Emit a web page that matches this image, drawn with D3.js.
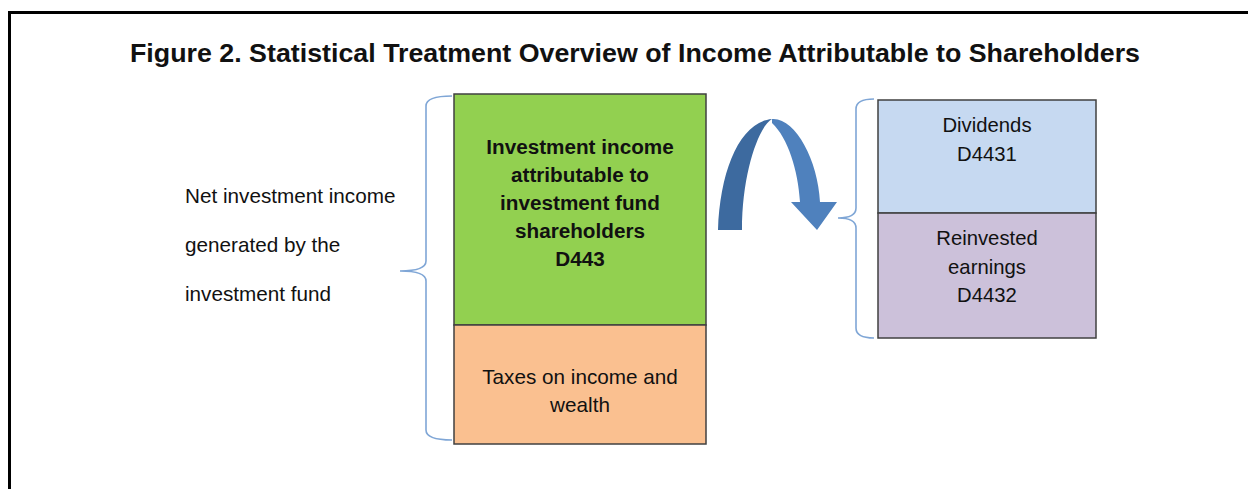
<!DOCTYPE html>
<html>
<head>
<meta charset="utf-8">
<script src="https://cdn.jsdelivr.net/npm/d3@7"></script>
<style>
  body { margin: 0; background: #fff; }
  text { font-family: "Liberation Sans", Arial, sans-serif; fill: #111; }
</style>
</head>
<body>
<div id="chart"></div>
<script>
////////////////////////////////////////////////////
// diagram content
////////////////////////////////////////////////////
var title = "Figure 2. Statistical Treatment Overview of Income Attributable to Shareholders";
var leftLines = ["Net investment income", "generated by the", "investment fund"];

// left stack: share of the column taken by each block
var leftNames  = ["Investment income\nattributable to\ninvestment fund\nshareholders\nD443", "Taxes on income and\nwealth"];
var leftShares = [0.66, 0.34];
var leftFills  = ["#92d050", "#fac090"];
var leftBold   = [true, false];

// right stack
var rightNames  = ["Dividends\nD4431", "Reinvested\nearnings\nD4432"];
var rightShares = [0.475, 0.525];
var rightFills  = ["#c6d9f1", "#ccc1da"];
////////////////////////////////////////////////////

var W = 1248, H = 489;
var svg = d3.select("#chart").append("svg")
	.attr("width", W)
	.attr("height", H);

// frame (top + left only)
svg.append("rect").attr("x", 8).attr("y", 11).attr("width", W - 8).attr("height", 3).attr("fill", "#000");
svg.append("rect").attr("x", 8).attr("y", 11).attr("width", 3).attr("height", H - 11).attr("fill", "#000");

svg.append("text")
	.attr("x", 130)
	.attr("y", 62)
	.attr("font-size", 26.5)
	.attr("font-weight", "bold")
	.attr("textLength", 1010)
	.attr("lengthAdjust", "spacingAndGlyphs")
	.text(title);

// left description
svg.selectAll("text.lefttxt")
	.data(leftLines)
	.enter().append("text")
		.attr("class", "lefttxt")
		.attr("x", 185)
		.attr("y", function(d, i) { return 203 + i * 49; })
		.attr("font-size", 20.7)
		.text(function(d) { return d; });

// stacked blocks
function stack(shares, y0, y1) {
	var y = d3.scaleLinear().domain([0, 1]).range([y0, y1]);
	var cum = d3.cumsum([0].concat(shares));
	return shares.map(function(s, i) { return { top: y(cum[i]), bot: y(cum[i + 1]) }; });
}

// firstBase: offset of first baseline from block top, per block
function drawStack(names, shares, fills, bold, x0, x1, y0, y1, firstBase, lineH, fs) {
	var segs = stack(shares, y0, y1);
	var g = svg.append("g");
	g.selectAll("rect")
		.data(segs)
		.enter().append("rect")
			.attr("x", x0)
			.attr("y", function(d) { return d.top; })
			.attr("width", x1 - x0)
			.attr("height", function(d) { return d.bot - d.top; })
			.attr("fill", function(d, i) { return fills[i]; })
			.attr("stroke", "#404040")
			.attr("stroke-width", 1.5);
	segs.forEach(function(d, i) {
		var lines = names[i].split("\n");
		var t = g.append("text")
			.attr("text-anchor", "middle")
			.attr("font-size", fs)
			.attr("font-weight", bold && bold[i] ? "bold" : "normal");
		lines.forEach(function(l, j) {
			t.append("tspan")
				.attr("x", (x0 + x1) / 2)
				.attr("y", d.top + firstBase[i] + j * lineH)
				.text(l);
		});
	});
	return segs;
}

drawStack(leftNames, leftShares, leftFills, leftBold, 454, 706, 94, 444, [60, 59], 28, 20.7);
drawStack(rightNames, rightShares, rightFills, null, 878, 1096, 100, 338, [32, 32], 28.5, 20.3);

// curly braces
function brace(xTip, xEnd, yTop, yMid, yBot) {
	var r = 10;
	var xv = xTip + (xEnd - xTip) * 0.5;
	var p = d3.path();
	p.moveTo(xEnd, yTop);
	p.quadraticCurveTo(xv, yTop, xv, yTop + r);
	p.lineTo(xv, yMid - r);
	p.quadraticCurveTo(xv, yMid, xTip, yMid);
	p.quadraticCurveTo(xv, yMid, xv, yMid + r);
	p.lineTo(xv, yBot - r);
	p.quadraticCurveTo(xv, yBot, xEnd, yBot);
	return p.toString();
}
svg.append("path")
	.attr("d", brace(400, 452, 96, 271, 440))
	.attr("fill", "none").attr("stroke", "#7fa6d6").attr("stroke-width", 1.6);
svg.append("path")
	.attr("d", brace(838, 874, 99, 218, 338))
	.attr("fill", "none").attr("stroke", "#7fa6d6").attr("stroke-width", 1.6);

// curved arrow: dark back limb + light front limb with head
var back = d3.path();
back.moveTo(718, 230);
back.bezierCurveTo(720, 170, 740, 122, 772, 119);
back.bezierCurveTo(760, 125, 742, 170, 742, 230);
back.closePath();
svg.append("path").attr("d", back.toString()).attr("fill", "#3d6a9f");

var front = d3.path();
front.moveTo(772, 119);
front.bezierCurveTo(795, 117, 818, 160, 820, 202);
front.lineTo(837, 202);
front.lineTo(817, 230);
front.lineTo(791, 202);
front.lineTo(800, 202);
front.bezierCurveTo(798, 170, 788, 138, 772, 123);
front.closePath();
svg.append("path").attr("d", front.toString()).attr("fill", "#4f81bd");
</script>
</body>
</html>
